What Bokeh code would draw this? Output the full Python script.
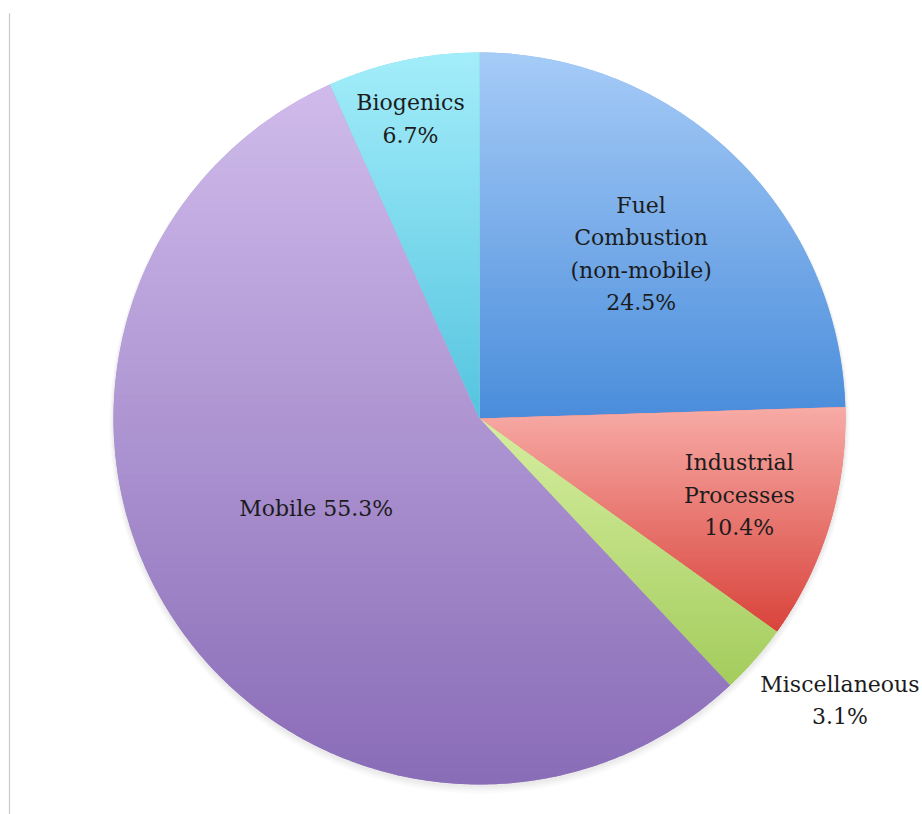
import math
from bokeh.plotting import figure
from bokeh.models import Range1d
from bokeh.core.properties import value
from bokeh.embed import file_html
from bokeh.resources import INLINE

# ---- data ----
categories = ["Fuel Combustion (non-mobile)", "Industrial Processes", "Miscellaneous", "Mobile", "Biogenics"]
label_lines = [["Fuel", "Combustion", "(non-mobile)", "24.5%"],
               ["Industrial", "Processes", "10.4%"],
               ["Miscellaneous", "3.1%"],
               ["Mobile 55.3%"],
               ["Biogenics", "6.7%"]]
shares = [24.5, 10.4, 3.1, 55.3, 6.7]

# ---- style ----
top_colors = ["#a6cbf7", "#f8aba6", "#d6eea0", "#cfbbeb", "#a3edfa"]
bot_colors = ["#4a8ddb", "#d8433b", "#a3cc5c", "#8a6cb7", "#55c4df"]
label_radius = [0.63, 0.74, 1.25, 0.51, 0.84]
label_angle_adj = [-0.4, 0.5, 3.2, -4.7, 0.9]

W, H = 922, 814
CX, CY, R = 479, 418, 366  # pixel geometry of pie


def hex2rgb(h):
    h = h.lstrip("#")
    return tuple(int(h[i:i + 2], 16) for i in (0, 2, 4))


def mix(c1, c2, t):
    a, b = hex2rgb(c1), hex2rgb(c2)
    return "#%02x%02x%02x" % tuple(int(round(a[i] + (b[i] - a[i]) * t)) for i in range(3))


def clip(poly, yv, keep_above):
    out = []
    n = len(poly)
    for i in range(n):
        p1 = poly[i]
        p2 = poly[(i + 1) % n]
        in1 = p1[1] >= yv if keep_above else p1[1] <= yv
        in2 = p2[1] >= yv if keep_above else p2[1] <= yv
        if in1:
            out.append(p1)
        if in1 != in2:
            t = (yv - p1[1]) / (p2[1] - p1[1])
            out.append((p1[0] + t * (p2[0] - p1[0]), yv))
    return out


p = figure(width=W, height=H, output_backend="svg", toolbar_location=None,
           x_range=Range1d(-CX / R, (W - CX) / R), y_range=Range1d(-(H - CY) / R, CY / R),
           min_border=0, background_fill_color="white", border_fill_color="white")
p.axis.visible = False
p.grid.visible = False
p.outline_line_color = None

# thin left border line
p.segment(x0=[(9 - CX) / R], y0=[(CY - 13) / R], x1=[(9 - CX) / R], y1=[(CY - H) / R],
          line_color="#c9c9c9", line_width=1.2)

# soft shadow
for k, a in enumerate([0.05, 0.05, 0.04, 0.03]):
    p.circle(x=[0], y=[-(2 + k) / R], radius=1 + (1 + k) / R, fill_color="#808080",
             fill_alpha=a, line_color=None)

total = sum(shares)
cum = 0.0
NB = 70
for i, s in enumerate(shares):
    a0 = math.pi / 2 - 2 * math.pi * cum / total
    a1 = math.pi / 2 - 2 * math.pi * (cum + s) / total
    cum += s
    # base wedge (mid colour)
    p.wedge(x=[0], y=[0], radius=1, start_angle=a1, end_angle=a0,
            fill_color=mix(top_colors[i], bot_colors[i], 0.5), line_color=None)
    nseg = max(8, int(abs(a0 - a1) * 120))
    poly = [(0.0, 0.0)] + [(math.cos(a0 + (a1 - a0) * j / nseg), math.sin(a0 + (a1 - a0) * j / nseg))
                           for j in range(nseg + 1)]
    ys = [q[1] for q in poly]
    ymin, ymax = min(ys), max(ys)
    xs_list, ys_list, cols = [], [], []
    for b in range(NB):
        hi = ymax - (ymax - ymin) * b / NB
        lo = ymax - (ymax - ymin) * (b + 1) / NB
        piece = clip(clip(poly, lo - 0.002, True), hi, False)
        if len(piece) < 3:
            continue
        xs_list.append([q[0] for q in piece])
        ys_list.append([q[1] for q in piece])
        cols.append(mix(top_colors[i], bot_colors[i], (b + 0.5) / NB))
    p.patches(xs=xs_list, ys=ys_list, fill_color=cols, line_color=None)

# labels
cum = 0.0
tx, ty, tt = [], [], []
for i, s in enumerate(shares):
    mid = math.pi / 2 - 2 * math.pi * (cum + s / 2) / total + math.radians(label_angle_adj[i])
    cum += s
    lx = label_radius[i] * math.cos(mid)
    ly = label_radius[i] * math.sin(mid)
    n = len(label_lines[i])
    for k, line in enumerate(label_lines[i]):
        tx.append(lx)
        ty.append(ly - (k - (n - 1) / 2) * 32.5 / R)
        tt.append(line)
p.text(x=tx, y=ty, text=tt, text_font=value("DejaVu Serif"), text_font_size="22px",
       text_align="center", text_baseline="middle", text_color="#1c1c1c")

open("out.html", "w").write(file_html(p, INLINE))
